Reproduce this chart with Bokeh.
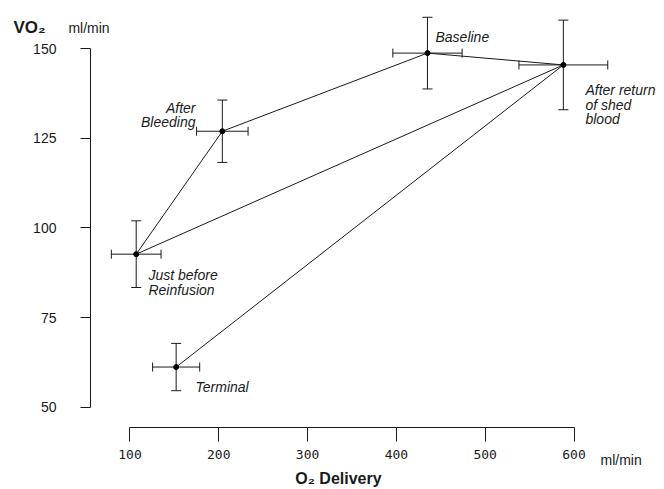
from bokeh.plotting import figure
from bokeh.models import (ColumnDataSource, Whisker, TeeHead, Label, FixedTicker,
                          Range1d)
from bokeh.embed import file_html
from bokeh.resources import INLINE

# ---- data ----
stages = ["Baseline", "After Bleeding", "Just before Reinfusion",
          "After return of shed blood", "Terminal"]
do2 = [435, 204, 107, 588, 152]          # O2 delivery, ml/min
vo2 = [148.8, 127.0, 92.7, 145.5, 61.2]  # VO2, ml/min
do2_err = [39, 29, 28, 50, 26.5]
vo2_err = [10, 8.7, 9.3, 12.5, 6.6]
x_ticks = [100, 200, 300, 400, 500, 600]
y_ticks = [50, 75, 100, 125, 150]

INK = "#1a1a1a"
FONT = "Liberation Sans"

src = ColumnDataSource(dict(
    x=do2, y=vo2,
    xlo=[a - e for a, e in zip(do2, do2_err)],
    xhi=[a + e for a, e in zip(do2, do2_err)],
    ylo=[a - e for a, e in zip(vo2, vo2_err)],
    yhi=[a + e for a, e in zip(vo2, vo2_err)],
))

p = figure(width=664, height=489, output_backend="svg", toolbar_location=None,
           x_range=Range1d(-45.8, 701.9), y_range=Range1d(27.03, 163.48),
           min_border_left=0, min_border_right=0, min_border_top=0,
           min_border_bottom=0)
p.outline_line_color = None
p.xgrid.visible = False
p.ygrid.visible = False
p.background_fill_color = "white"
p.border_fill_color = "white"

# axes
yax = p.yaxis[0]
yax.fixed_location = 55.5
yax.ticker = FixedTicker(ticks=y_ticks)
yax.bounds = (50, 150)
yax.major_tick_out = 10
yax.major_tick_in = 0
yax.minor_tick_line_color = None
yax.axis_line_color = INK
yax.major_tick_line_color = INK
yax.major_label_standoff = 24
yax.major_label_text_font = FONT
yax.major_label_text_font_size = "14px"
yax.major_label_text_color = INK

xax = p.xaxis[0]
xax.fixed_location = 44.33
xax.ticker = FixedTicker(ticks=x_ticks)
xax.bounds = (100, 600)
xax.major_tick_out = 14
xax.major_tick_in = 0
xax.minor_tick_line_color = None
xax.axis_line_color = INK
xax.major_tick_line_color = INK
xax.major_label_standoff = 8
xax.major_label_text_font = "DejaVu Sans Mono"
xax.major_label_text_font_size = "13px"
xax.major_label_text_color = INK

# connecting lines: chronological path plus baseline -> after return
p.line(x=do2, y=vo2, line_color=INK, line_width=1)
p.line(x=[do2[0], do2[3]], y=[vo2[0], vo2[3]], line_color=INK, line_width=1)

# error bars
p.add_layout(Whisker(source=src, base="x", lower="ylo", upper="yhi",
                     dimension="height", line_color=INK, line_width=1,
                     upper_head=TeeHead(size=10, line_color=INK, line_width=1),
                     lower_head=TeeHead(size=10, line_color=INK, line_width=1)))
p.add_layout(Whisker(source=src, base="y", lower="xlo", upper="xhi",
                     dimension="width", line_color=INK, line_width=1,
                     upper_head=TeeHead(size=9, line_color=INK, line_width=1),
                     lower_head=TeeHead(size=9, line_color=INK, line_width=1)))

p.scatter(x="x", y="y", source=src, size=5, color="black")

# point labels
def lab(x, y, text, align="left", size="14px", style="italic", base="alphabetic",
        font=FONT):
    p.add_layout(Label(x=x, y=y, text=text, text_align=align,
                       text_baseline=base, text_font=font,
                       text_font_size=size, text_font_style=style,
                       text_color=INK))

lab(444, 153.2, "Baseline")
lab(173.8, 133.5, "After", align="right")
lab(173.8, 129.5, "Bleeding", align="right")
lab(612.9, 138.4, "After return")
lab(612.9, 134.45, "of shed")
lab(612.9, 130.3, "blood")
lab(120.8, 86.75, "Just before")
lab(120.8, 82.8, "Reinfusion")
lab(173.8, 55.5, "Terminal")

# axis titles and units
lab(-31.2, 155.9, "VO₂", size="17px", style="bold")
lab(30.7, 155.9, "ml/min", size="14px", style="normal")
lab(629.8, 35.4, "ml/min", size="14px", style="normal")
lab(334.8, 27.6, "O₂ Delivery", align="center", size="16px", style="bold",
    base="bottom")

open("out.html", "w").write(file_html(p, INLINE))
